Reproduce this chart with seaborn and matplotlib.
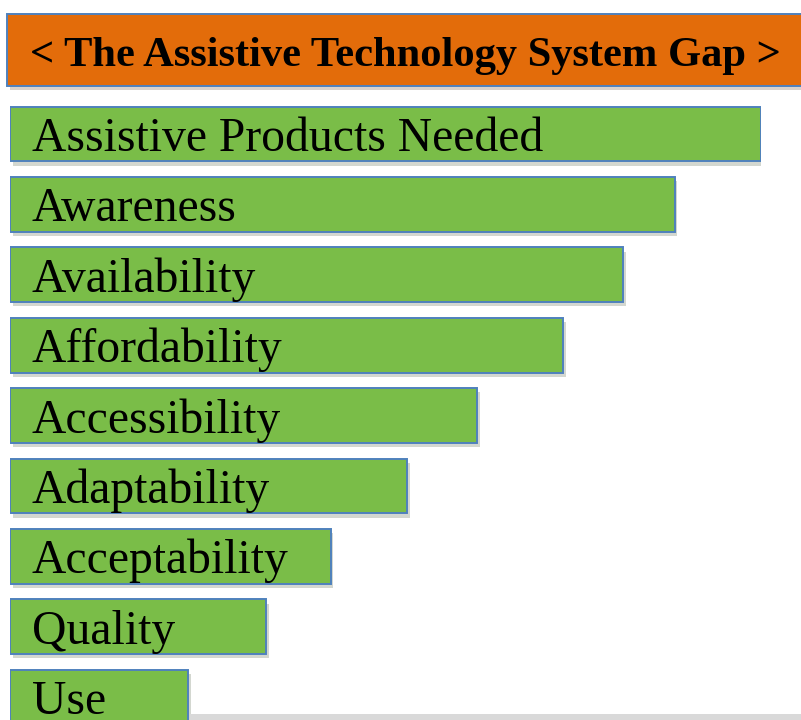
"""
Assistive technology system gap - horizontal funnel of green bars
"""

import matplotlib
matplotlib.use('Agg')
import matplotlib.pyplot as plt
import matplotlib.patheffects as pe
from matplotlib.patches import Rectangle
import seaborn as sns

# data
labels = ['Assistive Products Needed', 'Awareness', 'Availability', 'Affordability',
          'Accessibility', 'Adaptability', 'Acceptability', 'Quality', 'Use']
values = [100, 88.5, 81.6, 73.6, 62.2, 52.9, 42.7, 34.1, 23.7]
title = '< The Assistive Technology System Gap >'

green = '#7ABD48'
orange = '#E36C0A'
edge_blue = '#4F81BD'

sns.set_theme(style='white')
plt.rcParams['font.family'] = ['Liberation Serif', 'DejaVu Serif']

W, H = 801, 720
fig = plt.figure(figsize=(W / 100, H / 100), dpi=100)
fig.patch.set_facecolor('white')

shadow = [pe.SimplePatchShadow(offset=(2, -3), alpha=0.2), pe.Normal()]

# title box (figure pixel coords -> fraction)
box = Rectangle((7 / W, 1 - 86 / H), 800 / W, 72 / H, transform=fig.transFigure,
                facecolor=orange, edgecolor=edge_blue, linewidth=1.4, zorder=1)
box.set_path_effects(shadow)
fig.patches.append(box)
fig.text(30 / W, 1 - 66 / H, title, fontsize=30.6, fontweight='bold', color='black',
         ha='left', va='baseline')

# faint strip along the bottom
fig.patches.append(Rectangle((190 / W, 0), (W - 190) / W, 6 / H, transform=fig.transFigure,
                             facecolor='#D9D9D9', edgecolor='none'))

# bars: 0 -> x=10px, 100 -> x=761px; category pitch ~70.4px
pitch = 70.4
ax = fig.add_axes([10 / W, 1 - (134 + 8.5 * pitch) / H, 751 / W, 9 * pitch / H])
sns.barplot(x=values, y=labels, orient='h', color=green, edgecolor=edge_blue,
            linewidth=1.4, width=0.78, saturation=1, ax=ax)
ax.set_xlim(0, 100)
ax.set_ylim(8.5, -0.5)
ax.axis('off')

for p, lab in zip(ax.patches, labels):
    p.set_path_effects(shadow)
    ax.annotate(lab, xy=(p.get_x(), p.get_y() + p.get_height() / 2),
                xytext=(22 * 0.72, -17 * 0.72), textcoords='offset points',
                fontsize=34.3, color='black', ha='left', va='baseline',
                annotation_clip=False)

fig.savefig('out.png', dpi=100)
